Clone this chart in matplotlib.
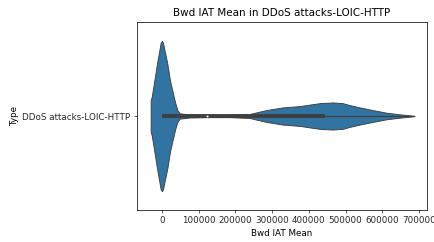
import matplotlib
matplotlib.use("Agg")
import matplotlib.pyplot as plt
import numpy as np

# data
category = "DDoS attacks-LOIC-HTTP"
# estimated density profile of the violin (value, relative density)
grid = [-30800, -28100, -20700, -13600, -3500, 0, 2700, 14700, 21800, 30000,
        36500, 41900, 48200, 75400, 129900, 184400, 238500, 284400, 329600,
        375000, 402300, 429500, 464900, 492300, 511300, 538500, 573900,
        612000, 647400, 680000, 688300]
density = [16, 19, 36, 52.7, 74, 76, 74, 52.7, 36, 22.7,
           12.7, 6, 2.7, 1.5, 1.2, 1.2, 2, 6, 8.7,
           10, 11.5, 13, 13.7, 13, 11, 8.7, 6,
           3.3, 1.7, 0.5, 0]
q1, median, q3 = 0, 122600, 443200
whisker_lo, whisker_hi = 0, 686000
xticks = [0, 100000, 200000, 300000, 400000, 500000, 600000, 700000]

W, H, DPI = 434, 242, 66
fig = plt.figure(figsize=(W / DPI, H / DPI), dpi=DPI)
ax = fig.add_axes([137 / W, 1 - 210 / H, (427 - 137) / W, (210 - 22) / H])

g = np.array(grid, float)
d = np.array(density, float)
half = d / d.max() * 0.4
ax.fill_between(g, -half, half, facecolor="#3274a1", edgecolor="#3f3f3f",
                linewidth=1.0, zorder=1)

ax.plot([whisker_lo, whisker_hi], [0, 0], color="#3f3f3f", lw=1.3,
        solid_capstyle="butt", zorder=2)
ax.plot([q1, q3], [0, 0], color="#3f3f3f", lw=4.2, solid_capstyle="butt",
        zorder=3)
ax.scatter([median], [0], s=5, color="white", zorder=4, linewidth=0)

ax.set_xlim(-68000, 722000)
ax.set_ylim(0.5, -0.5)
ax.set_yticks([0])
ax.set_yticklabels([category])
ax.set_xticks(xticks)
ax.set_xticklabels([str(v) for v in xticks])
ax.tick_params(labelsize=9.5, colors="#262626")
ax.set_xlabel("Bwd IAT Mean", fontsize=9.5)
ax.set_ylabel("Type", fontsize=9.5)
ax.set_title("Bwd IAT Mean in DDoS attacks-LOIC-HTTP", fontsize=11.3)

fig.savefig("out.png", dpi=DPI)
